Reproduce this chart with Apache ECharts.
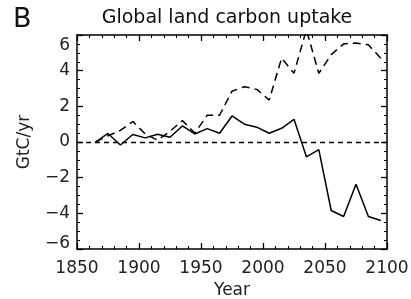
<!DOCTYPE html>
<html><head><meta charset="utf-8">
<script src="https://cdn.jsdelivr.net/npm/echarts@6/dist/echarts.min.js"></script>
<style>html,body{margin:0;padding:0;background:#fff}#c{width:411px;height:299px}</style>
</head><body><div id="c"></div>
<script>
const years = [1865,1875,1885,1895,1905,1915,1925,1935,1945,1955,1965,1975,1985,1995,2005,2015,2025,2035,2045,2055,2065,2075,2085,2095];
const solidVals = [0,0.48,-0.17,0.42,0.23,0.43,0.27,0.9,0.45,0.75,0.49,1.46,1.0,0.83,0.49,0.77,1.27,-0.83,-0.43,-3.84,-4.18,-2.37,-4.18,-4.4];
const dashedVals = [0,0.35,0.65,1.15,0.45,0.1,0.6,1.2,0.5,1.5,1.5,2.85,3.1,2.95,2.35,4.7,3.85,6.3,3.85,4.9,5.5,5.55,5.45,4.7];
const xTicks = [1850,1900,1950,2000,2050,2100];
const yTicks = [-6,-4,-2,0,2,4,6];
const zeroLine = 0;

const F = 'DejaVu Sans';
const chart = echarts.init(document.getElementById('c'), null, {renderer:'canvas'});
const pair = a => years.map((y,i)=>[y,a[i]]);
function axisCommon(split){
  return {
    axisLine:{show:true,onZero:false,lineStyle:{color:'#000',width:1.5}},
    axisTick:{show:true,inside:true,length:6,lineStyle:{color:'#000',width:1.3}},
    minorTick:{show:true,splitNumber:split,length:3,lineStyle:{color:'#000',width:1.1}},
    splitLine:{show:false}
  };
}
chart.setOption({
  animation:false,
  backgroundColor:'#fff',
  title:[
    {text:'B',left:8,top:1,textStyle:{fontFamily:F,fontSize:27,fontWeight:'normal',color:'#111'}},
    {text:'Global land carbon uptake',left:222,textAlign:'center',top:4,textStyle:{fontFamily:F,fontSize:19,fontWeight:'normal',color:'#111'}}
  ],
  grid:{left:77,right:24,top:35,bottom:50,containLabel:false,outerBoundsMode:'none'},
  xAxis:[
    Object.assign({type:'value',min:xTicks[0],max:xTicks[xTicks.length-1],interval:50,
      name:'Year',nameLocation:'middle',nameGap:31,
      nameTextStyle:{fontFamily:F,fontSize:17,color:'#222'},
      axisLabel:{fontFamily:F,fontSize:17,color:'#222',margin:11,formatter:v=>String(v)}},axisCommon(5)),
    Object.assign({type:'value',position:'top',min:xTicks[0],max:xTicks[xTicks.length-1],interval:50,
      axisLabel:{show:false}},axisCommon(5))
  ],
  yAxis:[
    Object.assign({type:'value',min:yTicks[0],max:yTicks[yTicks.length-1],interval:2,
      name:'GtC/yr',nameLocation:'middle',nameGap:44,
      nameTextStyle:{fontFamily:F,fontSize:17,color:'#222'},
      axisLabel:{fontFamily:F,fontSize:17,color:'#222',margin:7,
        formatter:v=>{const s=String(v).replace('-','\u2212'); if(v===6) return '{t|'+s+'}'; if(v===-6) return '{b|'+s+'}'; return s;},
        rich:{t:{fontFamily:F,fontSize:17,color:'#222',padding:[22,0,0,0]},b:{fontFamily:F,fontSize:17,color:'#222',padding:[0,0,10,0]}}}},axisCommon(4)),
    Object.assign({type:'value',position:'right',min:yTicks[0],max:yTicks[yTicks.length-1],interval:2,
      axisLabel:{show:false}},axisCommon(4))
  ],
  series:[
    {type:'line',data:pair(solidVals),symbol:'none',clip:true,
     lineStyle:{color:'#000',width:1.5},
     markLine:{silent:true,symbol:'none',label:{show:false},
       lineStyle:{color:'#000',width:1.3,type:[5,4]},data:[{yAxis:zeroLine}]}},
    {type:'line',data:pair(dashedVals),symbol:'none',clip:true,
     lineStyle:{color:'#000',width:1.5,type:[8,5]}}
  ]
});
</script></body></html>
